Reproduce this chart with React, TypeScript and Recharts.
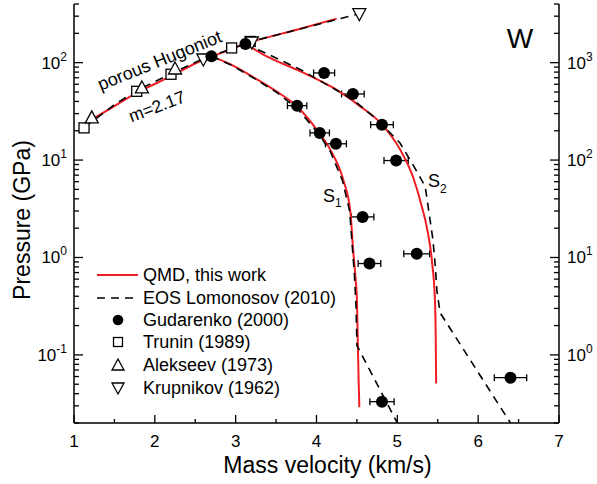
import { ScatterChart, Scatter, XAxis, YAxis, ErrorBar } from "recharts"

const W = 597
const H = 484
const PLOT = { left: 74, right: 559, top: 4, bottom: 423 }
const FONT = '"Liberation Sans", Arial, Helvetica, sans-serif'
const RED = "#ee1d23"

// QMD, this work: [u (km/s), P (GPa)]
const qmdPorous = [[1.2, 25.5], [1.5, 35.8], [1.78, 49.2], [2.19, 71.8], [2.6, 107], [2.7, 115], [3.12, 156], [3.8, 223], [4.25, 283]]
const qmdS1 = [[2.7, 116], [2.95, 95], [3.23, 70], [3.5, 51], [3.76, 35.5], [4.03, 19.1], [4.17, 12.8], [4.33, 6.3], [4.42, 2.9], [4.45, 1.3], [4.48, 0.65], [4.5, 0.37], [4.51, 0.15], [4.52, 0.06], [4.53, 0.029]]
const qmdS2 = [[3.12, 156], [3.385, 116], [3.8, 81.5], [4.21, 55], [4.54, 35.6], [4.79, 24.1], [5.035, 12.8], [5.2, 6.5], [5.3, 3.4], [5.37, 1.94], [5.43, 0.89], [5.465, 0.37], [5.475, 0.15], [5.48, 0.051]]

// EOS Lomonosov (2010)
const eosPorous = [[1.14, 22], [1.5, 37], [1.8, 53], [2.2, 77], [2.6, 110], [2.96, 139], [3.18, 164], [4.53, 318]]
const eosS1 = [[2.7, 116], [2.95, 94], [3.23, 69], [3.5, 50], [3.76, 34], [4.03, 18.5], [4.17, 12.3], [4.32, 6.2], [4.41, 3.0], [4.44, 1.4], [4.47, 0.65], [4.49, 0.3], [4.5, 0.125], [5.0, 0.02]]
const eosS2 = [[3.12, 156], [3.4, 122], [3.8, 85], [4.45, 41.8], [4.75, 26], [5.03, 15.1], [5.25, 7.45], [5.345, 5.35], [5.44, 1.53], [5.47, 0.81], [5.49, 0.45], [5.53, 0.27], [6.4, 0.02]]

// Gudarenko (2000)
const gudU = [2.7, 3.12, 3.76, 4.04, 4.24, 4.57, 4.655, 4.81, 4.094, 4.45, 4.81, 4.985, 5.24, 6.4]
const gudP = [116, 155, 36.2, 19.0, 14.7, 2.61, 0.867, 0.0331, 78.4, 47.7, 23.1, 9.89, 1.09, 0.0584]
const gudErr = [0, 0, 0.12, 0.12, 0.13, 0.14, 0.14, 0.15, 0.13, 0.14, 0.14, 0.15, 0.16, 0.2]

// Trunin (1989)
const truninU = [1.124, 1.776, 2.2, 2.95, 3.18]
const truninP = [21.4, 50.8, 76, 141.6, 165]
// Alekseev (1973)
const alekseevU = [1.22, 1.84, 2.25]
const alekseevP = [27.1, 55, 86.1]
// Krupnikov (1962)
const krupnikovU = [2.6, 3.2, 4.53]
const krupnikovP = [109, 163, 318]

const xTicks = [1, 1.5, 2, 2.5, 3, 3.5, 4, 4.5, 5, 5.5, 6, 6.5, 7]
const gpaTicks = [0.02, 0.03, 0.04, 0.05, 0.06, 0.07, 0.08, 0.09, 0.1, 0.2, 0.3, 0.4, 0.5, 0.6, 0.7, 0.8, 0.9, 1, 2, 3, 4, 5, 6, 7, 8, 9, 10, 20, 30, 40, 50, 60, 70, 80, 90, 100, 200, 300, 400]
const kbarTicks = [0.2, 0.3, 0.4, 0.5, 0.6, 0.7, 0.8, 0.9, 1, 2, 3, 4, 5, 6, 7, 8, 9, 10, 20, 30, 40, 50, 60, 70, 80, 90, 100, 200, 300, 400, 500, 600, 700, 800, 900, 1000, 2000, 3000, 4000]

const pairs = (arr: number[][]) => arr.map(([u, p]) => ({ u, p }))
const zipPts = (us: number[], ps: number[]) => us.map((u, i) => ({ u, p: ps[i] }))
const gudData = gudU.map((u, i) => ({ u, p: gudP[i], err: gudErr[i] }))

const isDecade = (v: number) => Math.abs(Math.log10(v) - Math.round(Math.log10(v))) < 1e-6
const isInt = (v: number) => Math.abs(v - Math.round(v)) < 1e-6

function Pow10({ v, x, y, anchor }: { v: number; x: number; y: number; anchor: "start" | "end" }) {
  const e = Math.round(Math.log10(v))
  return (
    <text x={x} y={y} textAnchor={anchor} fontFamily={FONT} fontSize={17} fill="#000">
      <tspan>10</tspan>
      <tspan dy={-8} fontSize={12}>{e}</tspan>
    </text>
  )
}

function LeftTick({ y, payload }: any) {
  const major = isDecade(payload.value)
  return (
    <g>
      <line x1={PLOT.left} x2={PLOT.left + (major ? 9 : 5)} y1={y} y2={y} stroke="#000" strokeWidth={1.3} />
      {major && <Pow10 v={payload.value} x={PLOT.left - 7} y={y + 6} anchor="end" />}
    </g>
  )
}

function RightTick({ y, payload }: any) {
  const major = isDecade(payload.value)
  return (
    <g>
      <line x1={PLOT.right} x2={PLOT.right - (major ? 9 : 5)} y1={y} y2={y} stroke="#000" strokeWidth={1.3} />
      {major && <Pow10 v={payload.value} x={PLOT.right + 8} y={y + 6} anchor="start" />}
    </g>
  )
}

function BottomTick({ x, payload }: any) {
  const major = isInt(payload.value)
  return (
    <g>
      <line x1={x} x2={x} y1={PLOT.bottom} y2={PLOT.bottom - (major ? 8 : 4)} stroke="#000" strokeWidth={1.3} />
      {major && (
        <text x={x} y={PLOT.bottom + 24} textAnchor="middle" fontFamily={FONT} fontSize={17} fill="#000">
          {payload.value}
        </text>
      )}
    </g>
  )
}

function TopTick({ x, payload }: any) {
  const major = isInt(payload.value)
  return <line x1={x} x2={x} y1={PLOT.top} y2={PLOT.top + (major ? 8 : 4)} stroke="#000" strokeWidth={1.3} />
}

const none = () => <g />
const dot = ({ cx, cy }: any) => <circle cx={cx} cy={cy} r={6} fill="#000" />
const square = ({ cx, cy }: any) => <rect x={cx - 5} y={cy - 5} width={10} height={10} fill="#fff" stroke="#000" strokeWidth={1.3} />
const triUp = ({ cx, cy }: any) => (
  <polygon points={`${cx},${cy - 7} ${cx + 6.5},${cy + 5} ${cx - 6.5},${cy + 5}`} fill="#fff" stroke="#000" strokeWidth={1.3} />
)
const triDown = ({ cx, cy }: any) => (
  <polygon points={`${cx},${cy + 7} ${cx + 6.5},${cy - 5} ${cx - 6.5},${cy - 5}`} fill="#fff" stroke="#000" strokeWidth={1.3} />
)

const redLine = { stroke: RED, strokeWidth: 2 }
const dashLine = { stroke: "#000", strokeWidth: 1.6, strokeDasharray: "8 6" }

function Legend() {
  const rows = [275, 298, 320, 342, 365, 388]
  const lx = 118
  const text = (y: number, s: string) => (
    <text x={143} y={y + 6} fontFamily={FONT} fontSize={18} fill="#000">{s}</text>
  )
  return (
    <g>
      <line x1={97} x2={138} y1={rows[0]} y2={rows[0]} stroke={RED} strokeWidth={2} />
      {text(rows[0], "QMD, this work")}
      <line x1={97} x2={138} y1={rows[1]} y2={rows[1]} stroke="#000" strokeWidth={1.6} strokeDasharray="8 6" />
      {text(rows[1], "EOS Lomonosov (2010)")}
      <circle cx={lx} cy={rows[2]} r={5.3} fill="#000" />
      {text(rows[2], "Gudarenko (2000)")}
      <rect x={lx - 4.5} y={rows[3] - 4.5} width={9} height={9} fill="#fff" stroke="#000" strokeWidth={1.3} />
      {text(rows[3], "Trunin (1989)")}
      <polygon points={`${lx},${rows[4] - 6} ${lx + 6},${rows[4] + 5} ${lx - 6},${rows[4] + 5}`} fill="#fff" stroke="#000" strokeWidth={1.3} />
      {text(rows[4], "Alekseev (1973)")}
      <polygon points={`${lx},${rows[5] + 6} ${lx + 6},${rows[5] - 5} ${lx - 6},${rows[5] - 5}`} fill="#fff" stroke="#000" strokeWidth={1.3} />
      {text(rows[5], "Krupnikov (1962)")}
    </g>
  )
}

function Annotations() {
  return (
    <g fontFamily={FONT} fill="#000">
      <text x={162} y={66} fontSize={18} textAnchor="middle" transform="rotate(-22 162 66)">porous Hugoniot</text>
      <text x={159} y={112} fontSize={17.5} textAnchor="middle" transform="rotate(-21 159 112)">m=2.17</text>
      <text x={520} y={48} fontSize={28} textAnchor="middle">W</text>
      <text x={323} y={202} fontSize={18}>S<tspan dy={5} fontSize={12}>1</tspan></text>
      <text x={428} y={187} fontSize={18}>S<tspan dy={6} fontSize={12}>2</tspan></text>
      <text x={327.5} y={473} fontSize={23} textAnchor="middle">Mass velocity (km/s)</text>
      <text x={30} y={220} fontSize={23} textAnchor="middle" transform="rotate(-90 30 220)">Pressure (GPa)</text>
    </g>
  )
}

export default function App() {
  return (
    <div style={{ position: "absolute", left: 0, top: 0, width: W, height: H, background: "#fff" }}>
      <ScatterChart width={W} height={H} margin={{ top: PLOT.top, right: 0, bottom: 0, left: 0 }}>
        <XAxis
          xAxisId="bottom"
          dataKey="u"
          type="number"
          domain={[1, 7]}
          ticks={xTicks}
          interval={0}
          allowDataOverflow
          height={H - PLOT.bottom}
          tickSize={0}
          tickMargin={0}
          tickLine={false}
          axisLine={{ stroke: "#000", strokeWidth: 1.5 }}
          tick={(p: any) => <BottomTick {...p} />}
        />
        <XAxis
          xAxisId="top"
          orientation="top"
          type="number"
          domain={[1, 7]}
          ticks={xTicks}
          interval={0}
          allowDataOverflow
          height={0}
          tickSize={0}
          tickMargin={0}
          tickLine={false}
          axisLine={{ stroke: "#000", strokeWidth: 1.5 }}
          tick={(p: any) => <TopTick {...p} />}
        />
        <YAxis
          yAxisId="left"
          dataKey="p"
          type="number"
          scale="log"
          domain={[0.02, 400]}
          ticks={gpaTicks}
          interval={0}
          allowDataOverflow
          width={PLOT.left}
          tickSize={0}
          tickMargin={0}
          tickLine={false}
          axisLine={{ stroke: "#000", strokeWidth: 1.5 }}
          tick={(p: any) => <LeftTick {...p} />}
        />
        <YAxis
          yAxisId="right"
          orientation="right"
          type="number"
          scale="log"
          domain={[0.2, 4000]}
          ticks={kbarTicks}
          interval={0}
          allowDataOverflow
          width={W - PLOT.right}
          tickSize={0}
          tickMargin={0}
          tickLine={false}
          axisLine={{ stroke: "#000", strokeWidth: 1.5 }}
          tick={(p: any) => <RightTick {...p} />}
        />

        <Scatter xAxisId="bottom" yAxisId="left" data={pairs(qmdPorous)} line={redLine} lineJointType="monotoneX" shape={none} isAnimationActive={false} />
        <Scatter xAxisId="bottom" yAxisId="left" data={pairs(qmdS1)} line={redLine} lineJointType="monotoneX" shape={none} isAnimationActive={false} />
        <Scatter xAxisId="bottom" yAxisId="left" data={pairs(qmdS2)} line={redLine} lineJointType="monotoneX" shape={none} isAnimationActive={false} />

        <Scatter xAxisId="bottom" yAxisId="left" data={pairs(eosPorous)} line={dashLine} shape={none} isAnimationActive={false} />
        <Scatter xAxisId="bottom" yAxisId="left" data={pairs(eosS1)} line={dashLine} shape={none} isAnimationActive={false} />
        <Scatter xAxisId="bottom" yAxisId="left" data={pairs(eosS2)} line={dashLine} shape={none} isAnimationActive={false} />

        <Scatter xAxisId="bottom" yAxisId="left" data={zipPts(truninU, truninP)} shape={square} isAnimationActive={false} />
        <Scatter xAxisId="bottom" yAxisId="left" data={zipPts(alekseevU, alekseevP)} shape={triUp} isAnimationActive={false} />
        <Scatter xAxisId="bottom" yAxisId="left" data={zipPts(krupnikovU, krupnikovP)} shape={triDown} isAnimationActive={false} />
        <Scatter xAxisId="bottom" yAxisId="left" data={gudData} shape={dot} isAnimationActive={false}>
          <ErrorBar dataKey="err" direction="x" width={3.5} stroke="#000" strokeWidth={1.3} />
        </Scatter>
      </ScatterChart>
      <svg width={W} height={H} style={{ position: "absolute", left: 0, top: 0, pointerEvents: "none" }}>
        <Legend />
        <Annotations />
      </svg>
    </div>
  )
}
